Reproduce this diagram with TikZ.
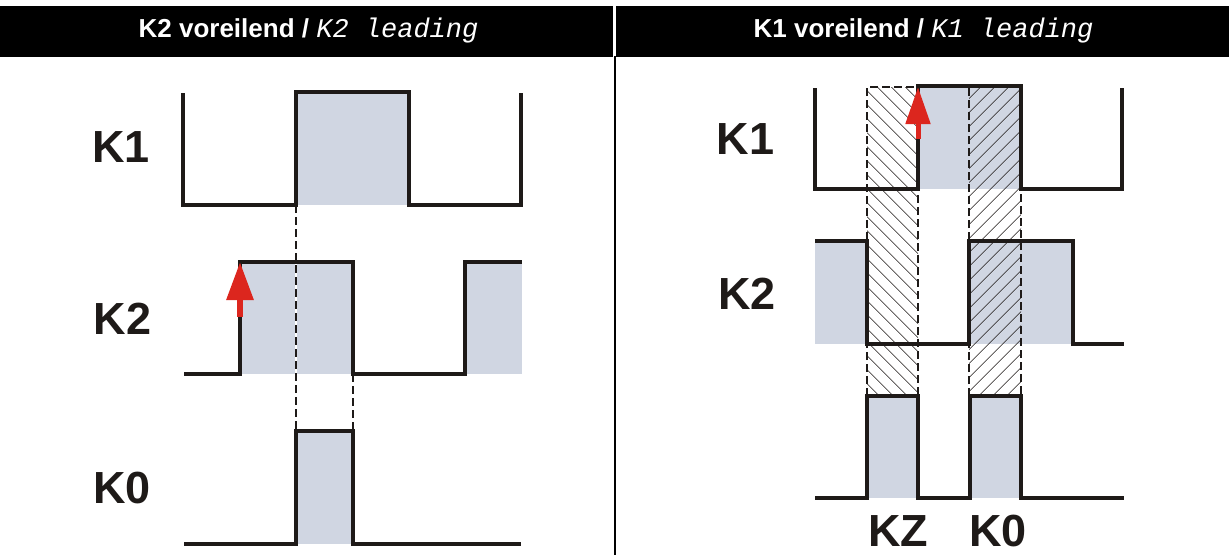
\documentclass[tikz,border=0pt]{standalone}
\usepackage{fontspec}
\setmainfont{Liberation Sans}
\newfontfamily\monofont{Liberation Mono}
\usepackage{xcolor}
\usetikzlibrary{
    arrows.meta,
    patterns.meta
}
\definecolor{sigfill}{RGB}{208,214,226}
\definecolor{sigline}{RGB}{30,26,24}
\definecolor{edgered}{RGB}{220,38,30}

\begin{document}
\begin{tikzpicture}[x=1pt, y=-1pt,
    signal/.style={draw=sigline, line width=4pt, line join=miter},
    high/.style={fill=sigfill},
    guide/.style={draw=sigline, line width=1.3pt, dash pattern=on 8pt off 4pt},
    window/.style={draw=sigline, line width=2.3pt, dash pattern=on 8pt off 4pt},
    hatchz/.style={pattern={Lines[angle=-45, distance=10.5pt, line width=0.9pt]}, pattern color=sigline},
    hatcho/.style={pattern={Lines[angle=45, distance=10.5pt, line width=0.9pt]}, pattern color=sigline},
    edge/.style={draw=edgered, line width=6pt, -{Triangle[length=38pt, width=26pt]}},
    sig/.style={text=sigline, font=\fontsize{45}{54}\selectfont\bfseries, inner sep=0pt},
    head/.style={text=white, anchor=base, inner sep=0pt, font=\fontsize{26}{30}\selectfont\bfseries}
]
                        \useasboundingbox (0,0) rectangle (1229,555);
                        \fill (0,6) rectangle (612.5,56.5);
                        \fill (616,6) rectangle (1229,56.5);
                        \draw[line width=2.3pt] (614.8,56) -- (614.8,555);
                        \node[head] (headl) at (308.5,37.3) {K2 voreilend / {\monofont\mdseries\itshape\fontsize{27}{30}\selectfont K2 leading}};
                        \node[head] (headr) at (923.5,37.3) {K1 voreilend / {\monofont\mdseries\itshape\fontsize{27}{30}\selectfont K1 leading}};

                        \fill[high] (296,92) rectangle (409,205);
                        \fill[high] (240,262) rectangle (353,374);
                        \fill[high] (465,262) rectangle (522,374);
                        \fill[high] (296,431) rectangle (353,544);
                        \draw[white, line width=1.3pt] (296,205) -- (296,431);
                        \draw[guide] (296,205) -- (296,431);
                        \draw[guide] (353,374) -- (353,431);
                        \draw[signal] (183,93) -- (183,205) -- (296,205) -- (296,92) -- (409,92) -- (409,205) -- (521,205) -- (521,93);
                        \draw[signal] (184,374) -- (240,374) -- (240,262) -- (353,262) -- (353,374) -- (465,374) -- (465,262) -- (522,262);
                        \draw[signal] (184,544) -- (296,544) -- (296,431) -- (353,431) -- (353,544) -- (521,544);
                        \coordinate (lfoot) at (240,317);
                        \coordinate (ltip) at (240,262);
                        \draw[edge] (lfoot) -- (ltip);
                        \node[sig] (lk1) at (121,147) {K1};
                        \node[sig] (lk2) at (122.5,318.5) {K2};
                        \node[sig] (lk0) at (122,488) {K0};

                        \fill[high] (918,86) rectangle (1021,189);
                        \fill[high] (815,241) rectangle (867,344);
                        \fill[high] (969,241) rectangle (1073,344);
                        \fill[high] (867,396) rectangle (918,498);
                        \fill[high] (970,396) rectangle (1021,498);
                        \path[hatchz] (867,87) rectangle (918,396);
                        \path[hatcho] (969,87) rectangle (1021,396);
                        \draw[window] (867,396) -- (867,87) -- (918,87) -- (918,396);
                        \draw[window] (969,396) -- (969,87) -- (1021,87) -- (1021,396);
                        \draw[signal] (815,88) -- (815,189) -- (918,189) -- (918,86) -- (1021,86) -- (1021,189) -- (1122,189) -- (1122,88);
                        \draw[signal] (815,241) -- (867,241) -- (867,344) -- (969,344) -- (969,241) -- (1073,241) -- (1073,344) -- (1124,344);
                        \draw[signal] (815,498) -- (867,498) -- (867,396) -- (918,396) -- (918,498) -- (970,498) -- (970,396) -- (1021,396) -- (1021,498) -- (1124,498);
                        \coordinate (rfoot) at (918,139);
                        \coordinate (rtip) at (918,87);
                        \draw[edge, line width=5pt, -{Triangle[length=37pt, width=24pt]}] (rfoot) -- (rtip);
                        \node[sig] (rk1) at (745.5,139) {K1};
                        \node[sig] (rk2) at (747,294) {K2};
                        \node[sig] (rkz) at (898,531.5) {KZ};
                        \node[sig] (rk0) at (998,531.5) {K0};
                    \end{tikzpicture}
\end{document}
